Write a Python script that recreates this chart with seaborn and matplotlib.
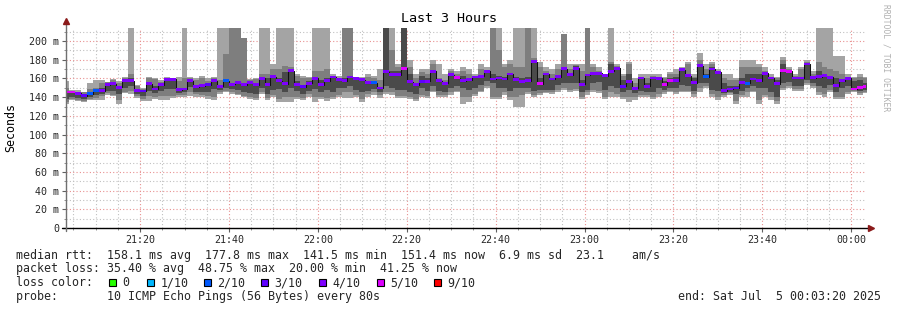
import numpy as np
import pandas as pd
import matplotlib
matplotlib.use("Agg")
import matplotlib.pyplot as plt
import matplotlib.dates as mdates
from matplotlib.ticker import FixedLocator, FixedFormatter, MultipleLocator
from matplotlib.patches import Rectangle
import seaborn as sns

# ---------------- data ----------------
first_sample = "2025-07-04 21:02:40"
step_seconds = 80
view_start = "2025-07-04 21:03:20"
view_end = "2025-07-05 00:03:20"

median_ms = [145.5,145.5,144,141.5,143.5,147.1,147.1,153.5,154.5,150.5,
 157.7,157.7,147.1,146.5,154.5,148.8,153.5,159,159,148,
 148.8,157.5,151,152.1,153.5,157.5,151.5,157.5,153.9,155.5,
 153.5,155.5,153.5,160.3,153.5,162,157.7,154.5,168.2,153.5,
 151.2,155,160,153.5,157.5,161.5,158.5,157.5,161.5,160,
 158.5,155.5,155.5,149.9,167.2,164,164,170.7,156.5,153.5,
 157,157,167.5,157.5,155,164,161,157.5,158.5,161.5,
 162.5,167.5,159.5,160.5,159.5,164.7,158.5,157,157.7,177.8,
 154.5,164.7,159.5,162,170.4,164,171,153.9,163.8,165.5,
 165.5,162.9,167.5,171,151.8,157,149.5,160.5,151.8,160.5,
 160,153.5,157.5,157.5,169.5,163,155.5,173.5,162,170.1,
 166.5,147.1,148.8,149.9,155.5,155,159.5,157.7,165.5,160.5,
 154.2,168.2,167.5,160.5,160.5,175.5,161,162,162.9,161.2,
 152.1,157.7,160.3,148.8,150.5,151.4]

loss_tenths = [5,5,4,3,2,2,4,4,4,4,
 4,4,4,3,4,4,4,4,4,4,
 4,4,4,4,3,4,4,2,4,4,
 4,4,4,4,4,4,4,4,4,4,
 3,4,4,4,4,4,4,4,4,4,
 4,4,2,4,4,4,4,5,4,4,
 3,4,4,4,4,4,5,4,4,4,
 4,4,4,4,4,4,4,4,4,4,
 5,4,4,4,4,4,4,4,4,4,
 4,4,4,4,3,4,4,4,4,4,
 4,5,5,4,4,4,4,4,2,4,
 4,4,4,3,4,2,4,4,4,4,
 4,5,5,4,4,4,4,4,4,4,
 4,4,4,5,5,5]

light_lo = [133,137,136,135,137,137,137,142,141,133,
 144,143,139,136,136,138,137,137,139,140,
 140,141,140,140,138,137,143,145,143,142,
 140,138,137,143,137,140,135,135,135,138,
 137,140,135,138,136,138,140,139,139,140,
 135,140,142,139,143,142,139,139,138,136,
 140,139,145,140,140,142,145,133,135,141,
 145,150,138,138,142,137,130,130,143,140,
 142,144,143,145,148,145,147,138,142,145,
 144,138,140,140,138,135,137,140,140,138,
 140,143,145,143,145,145,140,145,150,140,
 137,140,142,133,140,140,145,133,140,137,
 133,148,150,147,147,153,150,142,140,145,
 138,138,143,145,142,144]
light_hi = [157,148,148,146,155,158,158,156,159,157,
 162,214,153,150,162,160,158,162,161,162,
 214,162,161,163,160,162,214,214,214,214,
 203,159,161,214,214,176,214,214,214,165,
 163,162,214,214,214,165,163,214,214,160,
 162,165,163,170,214,214,175,214,180,165,
 170,170,180,175,165,170,168,172,170,165,
 175,172,214,214,175,180,214,214,214,214,
 178,172,170,175,208,175,175,175,214,175,
 172,165,214,175,165,178,160,165,165,165,
 165,162,167,170,172,178,165,187,175,178,
 170,165,165,160,180,180,180,175,172,165,
 162,183,172,165,172,180,168,214,214,214,
 184,184,165,162,165,162]
mid_lo = [135,138,137,136,138,139,141,144,142,137,
 145,147,141,138,141,140,141,141,141,142,
 142,146,143,142,141,140,145,147,146,143,
 141,140,139,145,139,142,138,140,140,140,
 139,143,140,140,139,140,142,146,146,142,
 138,143,145,142,146,145,141,141,140,138,
 142,141,147,142,142,145,147,140,140,143,
 147,152,140,140,145,140,140,142,145,142,
 144,146,145,148,150,148,149,140,145,148,
 147,140,145,143,140,140,140,142,142,140,
 143,145,147,145,147,147,143,150,152,143,
 140,142,144,136,142,145,147,137,142,140,
 136,150,152,149,149,155,152,145,143,148,
 140,140,146,147,144,146]
mid_hi = [150,146,146,145,149,150,155,156,158,155,
 160,165,152,149,160,159,156,160,160,157,
 160,161,158,160,157,160,158,186,214,214,
 203,158,159,165,165,170,170,173,172,163,
 160,161,168,168,170,163,160,214,214,159,
 160,162,160,158,214,190,172,214,172,160,
 167,165,176,160,158,168,165,168,165,162,
 170,168,214,190,172,175,172,172,214,182,
 172,168,165,170,208,170,174,168,214,172,
 168,164,178,173,163,175,155,162,160,163,
 162,160,165,165,171,175,162,180,170,175,
 168,160,158,158,172,172,172,172,168,162,
 160,180,170,163,170,178,165,178,172,170,
 168,165,162,160,162,160]
dark_lo = [138,140,139,138,140,142,143,147,147,143,
 150,152,143,141,147,144,147,149,149,144,
 145,151,145,146,146,149,148,150,149,148,
 146,144,143,150,143,148,149,145,150,147,
 143,147,149,145,148,146,150,150,152,148,
 145,147,149,145,152,150,148,148,146,143,
 150,147,152,147,146,150,152,150,148,150,
 153,157,155,150,150,147,150,150,150,147,
 148,148,148,153,155,155,155,145,148,155,
 156,148,152,150,145,148,144,147,145,145,
 150,148,150,150,153,152,147,155,155,148,
 147,144,146,143,147,150,152,150,150,145,
 140,155,156,152,152,158,155,152,150,153,
 145,150,152,150,147,148]
dark_hi = [145,145,144,143,145,148,150,153,155,151,
 158,160,149,147,156,152,155,160,159,150,
 150,158,152,153,154,158,153,158,155,156,
 154,156,154,161,160,164,160,167,170,157,
 153,157,161,158,161,160,158,160,162,158,
 157,156,156,151,214,168,168,214,165,155,
 163,160,168,158,156,166,162,163,160,161,
 163,167,165,163,162,166,162,160,162,180,
 160,166,161,163,172,166,173,158,165,167,
 166,164,175,172,158,165,151,162,155,162,
 162,157,161,162,171,165,160,175,165,172,
 168,155,152,152,160,165,165,165,167,162,
 158,175,169,162,162,177,163,168,165,163,
 160,158,162,157,158,155]

loss_colors = {0: "#26ff00", 1: "#00b8ff", 2: "#0059ff", 3: "#5e00ff",
               4: "#7e00ff", 5: "#dd00ff", 9: "#ff0000"}
loss_legend = [(0, "0"), (1, "1/10"), (2, "2/10"), (3, "3/10"),
               (4, "4/10"), (5, "5/10"), (9, "9/10")]

y_ticks = [0, 20, 40, 60, 80, 100, 120, 140, 160, 180, 200]
y_tick_labels = ["0", "20 m", "40 m", "60 m", "80 m", "100 m", "120 m",
                 "140 m", "160 m", "180 m", "200 m"]
y_top = 214

title = "Last 3 Hours"
legend_lines = [
    "median rtt:  158.1 ms avg  177.8 ms max  141.5 ms min  151.4 ms now  6.9 ms sd  23.1    am/s",
    "packet loss: 35.40 % avg  48.75 % max  20.00 % min  41.25 % now",
]
probe_line = "probe:       10 ICMP Echo Pings (56 Bytes) every 80s"
end_text = "end: Sat Jul  5 00:03:20 2025"
watermark = "RRDTOOL / TOBI OETIKER"

# ---------------- drawing ----------------
sns.set_theme(style="white")
plt.rcParams["font.family"] = ["DejaVu Sans Mono", "DejaVu Sans"]

W, H = 897, 310
fig = plt.figure(figsize=(W / 100, H / 100), dpi=100, facecolor="white")
ax = fig.add_axes([66 / W, 1 - 228 / H, 800 / W, 200 / H])
ax.set_facecolor("white")

n = len(median_ms)
edges = pd.date_range(first_sample, periods=n + 1, freq=f"{step_seconds}s")
xe = mdates.date2num(edges.to_pydatetime())

def ext(v):
    v = np.asarray(v, dtype=float)
    return np.append(v, v[-1])

for lo, hi, col in [(light_lo, light_hi, "#a4a4a4"),
                    (mid_lo, mid_hi, "#7e7e7e"),
                    (dark_lo, dark_hi, "#4a4a4a")]:
    ax.fill_between(xe, ext(lo), ext(hi), step="post", color=col, linewidth=0, zorder=2)

df = pd.DataFrame({"t": xe, "median": ext(median_ms)})
sns.lineplot(data=df, x="t", y="median", ax=ax, drawstyle="steps-post",
             color="#101010", linewidth=0.75, estimator=None, zorder=3)

med = np.asarray(median_ms, dtype=float)
ax.bar(xe[:-1], 3.0, bottom=med - 1.5, width=step_seconds / 86400.0, align="edge",
       color=[loss_colors[l] for l in loss_tenths], linewidth=0, zorder=4)

ax.set_xlim(mdates.date2num(pd.Timestamp(view_start)), mdates.date2num(pd.Timestamp(view_end)))
ax.set_ylim(0, y_top)

ax.yaxis.set_major_locator(FixedLocator(y_ticks))
ax.yaxis.set_major_formatter(FixedFormatter(y_tick_labels))
ax.yaxis.set_minor_locator(MultipleLocator(10))
ax.xaxis.set_major_locator(mdates.MinuteLocator(byminute=[0, 20, 40]))
ax.xaxis.set_minor_locator(mdates.MinuteLocator(byminute=range(0, 60, 5)))
ax.xaxis.set_major_formatter(mdates.DateFormatter("%H:%M"))

ax.set_xlabel("")
ax.set_ylabel("")
ax.tick_params(axis="both", which="major", labelsize=7.2, length=3, width=0.8,
               color="#606060", direction="out", pad=2, left=True, bottom=True)
ax.tick_params(axis="both", which="minor", length=1.5, width=0.6, color="#808080",
               direction="out", left=True, bottom=True)

ax.set_axisbelow(True)
ax.grid(which="major", color="#e89090", linestyle=(0, (1, 2)), linewidth=0.8, zorder=0)
ax.grid(which="minor", color="#c0c0c0", linestyle=(0, (1, 2)), linewidth=0.8, zorder=0)
for s in ax.spines.values():
    s.set_visible(False)

# axes with arrows
ax.plot([-4 / 800, 1 + 3 / 800], [0, 0], transform=ax.transAxes, color="#000000",
        lw=1.0, clip_on=False, zorder=6)
ax.plot([0, 0], [-3 / 200, 1 + 4 / 200], transform=ax.transAxes, color="#707070",
        lw=1.0, clip_on=False, zorder=6)
ax.plot([1 + 5 / 800], [0], marker=">", markersize=4, color="#8b1a1a",
        transform=ax.transAxes, clip_on=False, zorder=7)
ax.plot([0], [1 + 7 / 200], marker="^", markersize=4, color="#8b1a1a",
        transform=ax.transAxes, clip_on=False, zorder=7)

# texts
fig.text(448.5 / W, 1 - 19 / H, title, ha="center", va="center", fontsize=9.6, color="black")
fig.text(11 / W, 1 - 128 / H, "Seconds", rotation=90, ha="center", va="center",
         fontsize=8.4, color="black")
fig.text(886 / W, 1 - 4 / H, watermark, rotation=270, ha="center", va="top",
         fontsize=5.8, color="#b0b0b0")

line_y = [255, 268.5, 282.5, 296.5]
fs = 8.37
fig.text(16 / W, 1 - line_y[0] / H, legend_lines[0], ha="left", va="center", fontsize=fs)
fig.text(16 / W, 1 - line_y[1] / H, legend_lines[1], ha="left", va="center", fontsize=fs)
fig.text(16 / W, 1 - line_y[2] / H, "loss color:", ha="left", va="center", fontsize=fs)
box_x = [109, 146.7, 204, 261, 319, 376.7, 434]
for bx, (code, lab) in zip(box_x, loss_legend):
    fig.patches.append(Rectangle((bx / W, 1 - (line_y[2] + 3.5) / H), 7 / W, 7 / H,
                                 transform=fig.transFigure, facecolor=loss_colors[code],
                                 edgecolor="black", linewidth=0.8))
    fig.text((bx + 13.5) / W, 1 - line_y[2] / H, lab, ha="left", va="center", fontsize=fs)
fig.text(16 / W, 1 - line_y[3] / H, probe_line, ha="left", va="center", fontsize=fs)
fig.text(881 / W, 1 - line_y[3] / H, end_text, ha="right", va="center", fontsize=fs)

fig.savefig("out.png", dpi=100, facecolor="white")
